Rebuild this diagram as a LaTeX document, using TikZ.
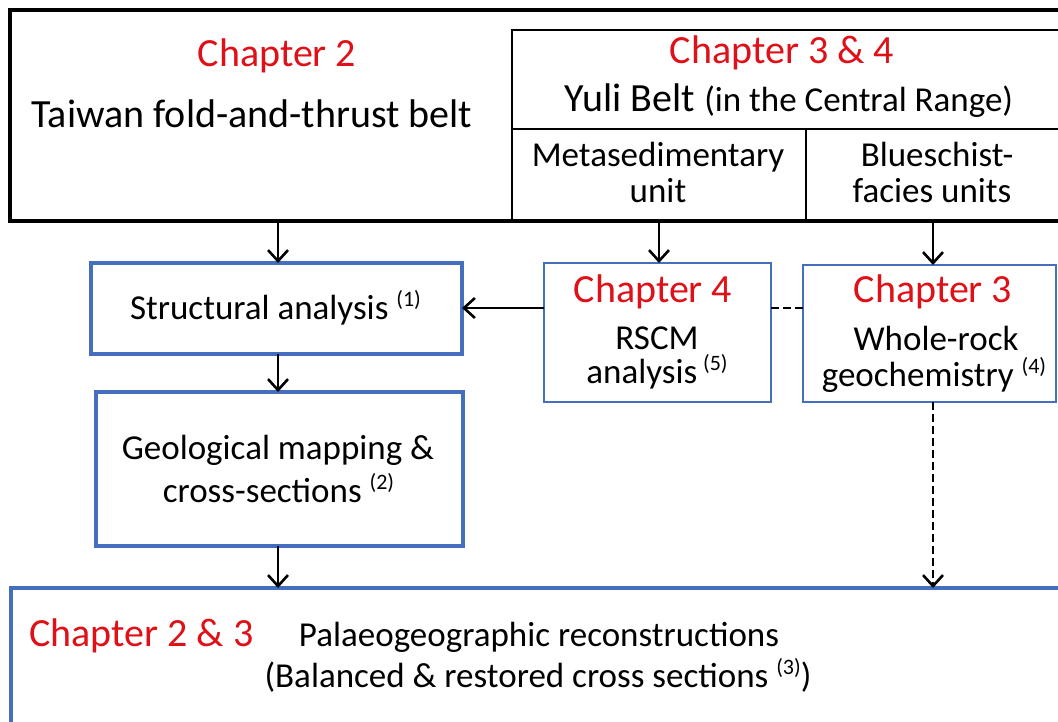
\documentclass[tikz,border=0pt]{standalone}
\usepackage{fontspec}
\setmainfont{Carlito}
\usetikzlibrary{arrows.meta}
\definecolor{chred}{RGB}{224,16,24}
\definecolor{boxblue}{RGB}{68,110,190}
\newcommand{\bigsz}{\fontsize{40bp}{46bp}\selectfont}
\newcommand{\midsz}{\fontsize{35bp}{41bp}\selectfont}
\newcommand{\supnum}[1]{\raisebox{13bp}{\fontsize{22bp}{24bp}\selectfont(#1)}}
\begin{document}
\begin{tikzpicture}[x=1bp,y=-1bp,
  box/.style={inner sep=0pt,outer sep=0pt},
  blackbox/.style={box,draw=black,line width=3.5bp},
  innerbox/.style={box,draw=black,line width=2.2bp},
  bluebox/.style={box,draw=boxblue,line width=3.2bp},
  thinblue/.style={box,draw=boxblue,line width=2bp},
  txt/.style={inner sep=0pt,anchor=base,text=black},
  redtxt/.style={inner sep=0pt,anchor=base,text=chred},
  tip/.style={-{Straight Barb[length=11bp,width=20bp,line width=2.6bp]}},
  arr/.style={line width=2.6bp,tip},
  dsh/.style={line width=2.6bp,dash pattern=on 8bp off 4bp}]
\useasboundingbox (0,0) rectangle (1058,722);
\clip (0,0) rectangle (1058,722);
\fill[white] (0,0) rectangle (1058,722);

% boxes
\node[blackbox,minimum width=1070bp,minimum height=211bp] (tfb) at (545,115.5) {};
\node[innerbox,minimum width=553bp,minimum height=191bp] (yuli) at (788.5,125.5) {};
\draw[line width=2.2bp] (512,129) -- (1065,129);
\draw[line width=2.2bp] (806,129) -- (806,221);
\node[bluebox,minimum width=371bp,minimum height=91bp] (sa) at (276.5,308.5) {};
\node[bluebox,minimum width=367bp,minimum height=154bp] (gm) at (279.5,469) {};
\node[thinblue,minimum width=227bp,minimum height=139bp] (ch4) at (657.5,332.5) {};
\node[thinblue,minimum width=253bp,minimum height=137bp] (ch3) at (929.5,333.5) {};
\node[bluebox,minimum width=1069bp,minimum height=152bp] (bot) at (545.5,664) {};

% texts
\node[redtxt] (t2) at (277,67) {\bigsz Chapter 2};
\node[txt] (ttfb) at (252,128) {\bigsz Taiwan fold-and-thrust belt};
\node[redtxt] (t34) at (782,64) {\bigsz Chapter 3 \& 4};
\node[txt] (tyuli) at (789,112) {\bigsz Yuli Belt \midsz(in the Central Range)};
\node[txt] (tmeta1) at (658,167) {\midsz Metasedimentary};
\node[txt] (tmeta2) at (658,203) {\midsz unit};
\node[txt] (tblue1) at (937,167) {\midsz Blueschist-};
\node[txt] (tblue2) at (932,203) {\midsz facies units};
\node[txt] (tsa) at (275.5,319) {\midsz Structural analysis \supnum{1}};
\node[txt] (tgm1) at (278,459) {\midsz Geological mapping \&};
\node[txt] (tgm2) at (278.5,502) {\midsz cross-sections \supnum{2}};
\node[redtxt] (tc4) at (653,302) {\bigsz Chapter 4};
\node[txt] (trscm1) at (657,349) {\midsz RSCM};
\node[txt] (trscm2) at (657,383) {\midsz analysis\,\supnum{5}};
\node[redtxt] (tc3) at (933,302) {\bigsz Chapter 3};
\node[txt] (twr1) at (936,350) {\midsz Whole-rock};
\node[txt] (twr2) at (934,386) {\midsz geochemistry \supnum{4}};
\node[redtxt,anchor=base west] (tc23) at (29,646) {\bigsz Chapter 2 \& 3};
\node[txt] (tpal1) at (539,646) {\midsz Palaeogeographic reconstructions};
\node[txt] (tpal2) at (538,687) {\midsz (Balanced \& restored cross sections \supnum{3})};

% connectors
\coordinate (c1) at (278,0);
\coordinate (c2) at (659,0);
\coordinate (c3) at (933,0);
\coordinate (r1) at (0,308);
\draw[arr] (tfb.south -| c1) -- (sa.north -| c1);
\draw[arr] (sa.south -| c1) -- (gm.north -| c1);
\draw[arr] (gm.south -| c1) -- (bot.north -| c1);
\draw[arr] (tfb.south -| c2) -- (ch4.north -| c2);
\draw[arr] (tfb.south -| c3) -- (ch3.north -| c3);
\draw[arr] (ch4.west |- r1) -- (sa.east |- r1);
\draw[dsh] (ch4.east |- r1) -- (ch3.west |- r1);
\draw[dsh,tip] (ch3.south -| c3) -- (bot.north -| c3);
\end{tikzpicture}
\end{document}
